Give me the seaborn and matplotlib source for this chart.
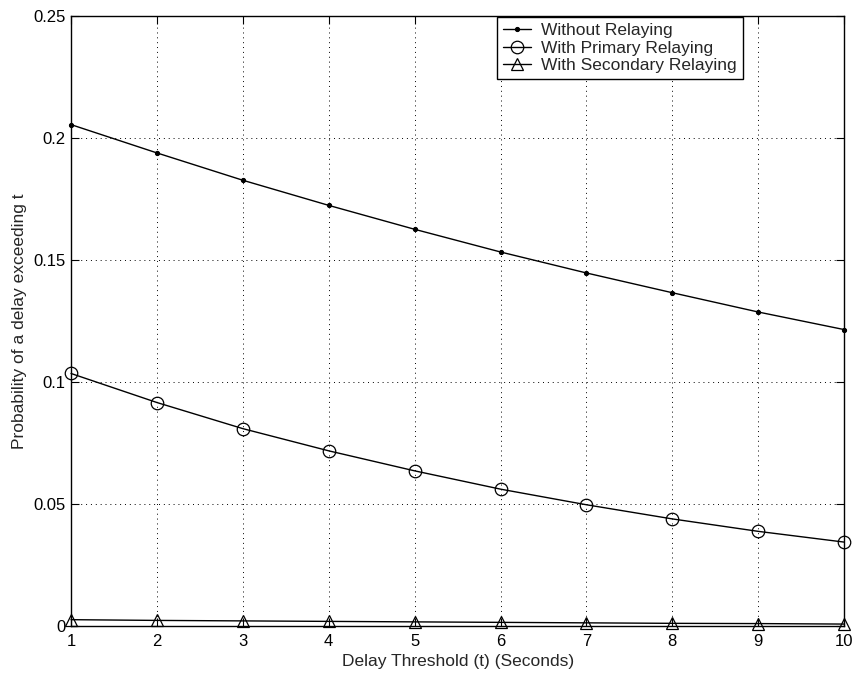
import numpy as np
import pandas as pd
import matplotlib
matplotlib.use("Agg")
import matplotlib.pyplot as plt
import seaborn as sns

sns.set_style("white")
plt.rcParams['font.family'] = ['Liberation Sans', 'DejaVu Sans']

# values
delay_t = [1, 2, 3, 4, 5, 6, 7, 8, 9, 10]
without_relay = [0.2055, 0.1939, 0.1827, 0.1724, 0.1626, 0.1533, 0.1447, 0.1366, 0.1287, 0.1215]
primary_relay = [0.1035, 0.0916, 0.0809, 0.0718, 0.0636, 0.0561, 0.0497, 0.0439, 0.0388, 0.0344]
secondary_relay = [0.0026, 0.0023, 0.0021, 0.0019, 0.0017, 0.0015, 0.0013, 0.0011, 0.0010, 0.0008]
series_names = ['Without Relaying', 'With Primary Relaying', 'With Secondary Relaying']
y_ticks = [0, 0.05, 0.1, 0.15, 0.2, 0.25]
y_labels = ['0', '0.05', '0.1', '0.15', '0.2', '0.25']

fig = plt.figure(figsize=(8.58, 6.77), dpi=100)
ax = fig.add_axes([0.0828, 0.0753, 0.901, 0.901])

marker_opts = [
    dict(marker='.', markersize=6, mfc='black', mec='black'),
    dict(marker='o', markersize=9, mfc='none', mec='black', mew=0.9),
    dict(marker='^', markersize=9, mfc='none', mec='black', mew=0.9),
]
for vals, name, mo in zip([without_relay, primary_relay, secondary_relay], series_names, marker_opts):
    df = pd.DataFrame({'t': delay_t, 'p': vals})
    sns.lineplot(data=df, x='t', y='p', ax=ax, color='black', linewidth=1.0,
                 label=name, clip_on=False, zorder=3, **mo)

ax.set_xlim(1, 10)
ax.set_ylim(0, 0.25)
ax.set_xticks(delay_t)
ax.set_yticks(y_ticks)
ax.set_yticklabels(y_labels)
ax.grid(True, linestyle=(0, (1, 4)), color='black', linewidth=0.7)
ax.tick_params(direction='in', length=6, width=0.8, labelsize=12, colors='black',
               top=True, right=True, bottom=True, left=True)
ax.tick_params(axis='x', pad=6)
ax.tick_params(axis='y', pad=4)
for sp in ax.spines.values():
    sp.set_color('black')
    sp.set_linewidth(1.0)

ax.set_xlabel('Delay Threshold (t) (Seconds)', fontsize=12.5)
ax.set_ylabel('Probability of a delay exceeding t', fontsize=12.5)
ax.xaxis.set_label_coords(0.5, -0.046)
ax.yaxis.set_label_coords(-0.057, 0.5)

leg = ax.legend(loc='upper left', bbox_to_anchor=(0.551, 0.998), fontsize=12.5,
                frameon=True, fancybox=False, edgecolor='black', framealpha=1,
                handlelength=1.6, handletextpad=0.6, borderpad=0.35, labelspacing=0.12,
                borderaxespad=0)
leg.get_frame().set_linewidth(1.0)

fig.savefig('out.png', dpi=100)
